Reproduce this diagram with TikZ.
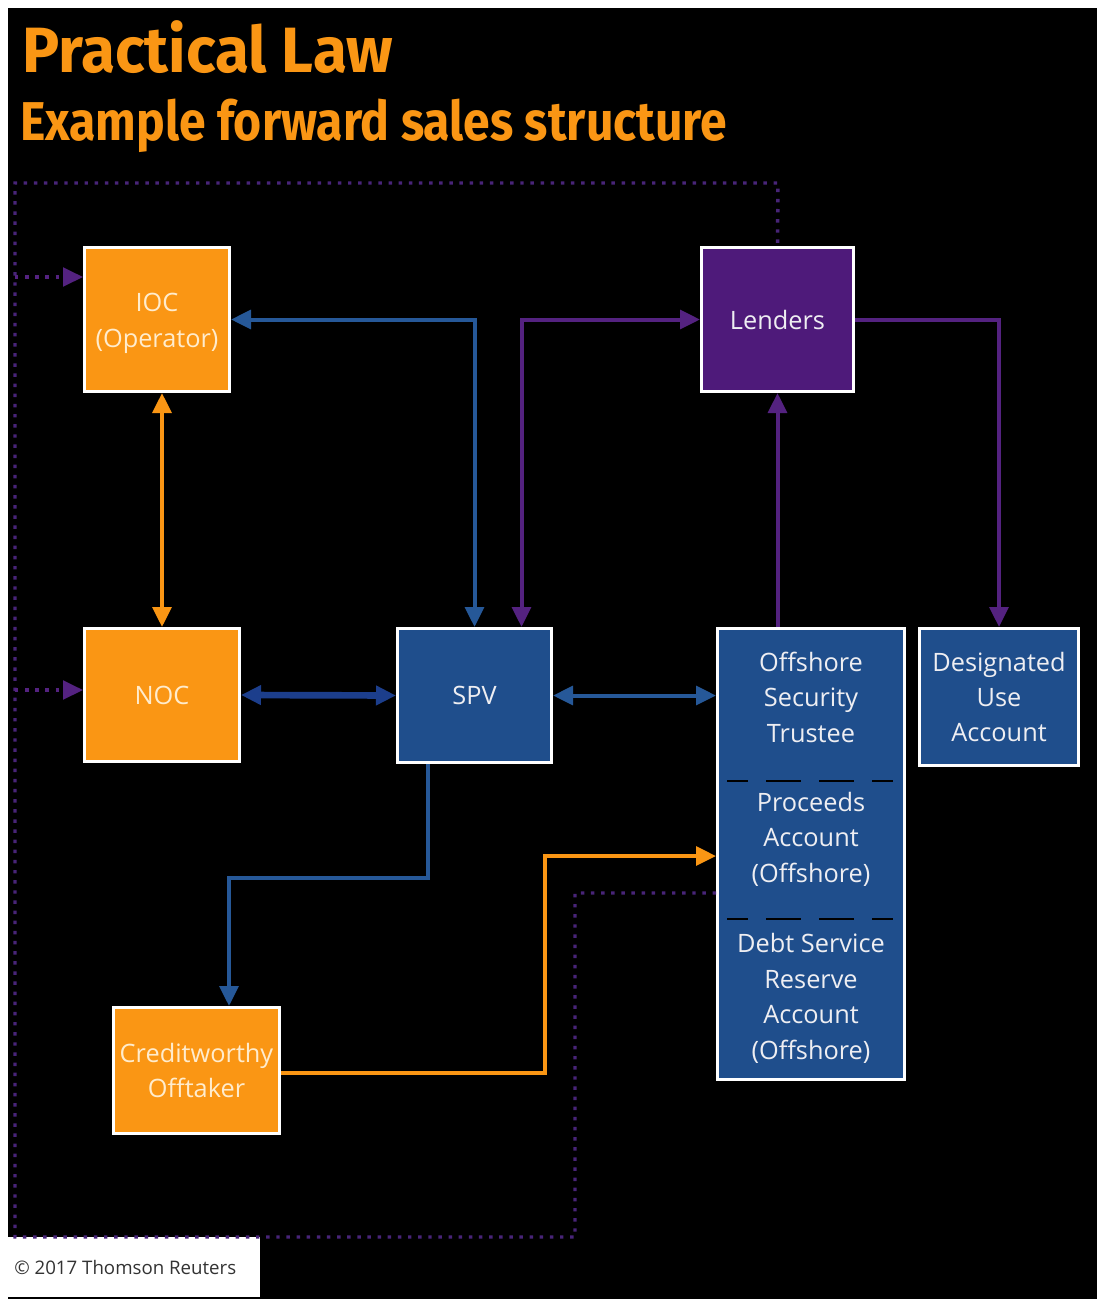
\documentclass[tikz,border=0pt]{standalone}
\usepackage{fontspec}
\setmainfont{Open Sans}
\newfontfamily\titlefont{Fira Sans}
\usetikzlibrary{arrows.meta,calc}
\definecolor{org}{RGB}{250,150,20}
\definecolor{blu}{RGB}{31,78,140}
\definecolor{blul}{RGB}{38,88,152}
\definecolor{bluk}{RGB}{28,62,140}
\definecolor{pur}{RGB}{78,26,122}
\definecolor{purl}{RGB}{84,34,128}
\definecolor{purd}{RGB}{72,36,120}
\definecolor{txtc}{RGB}{238,238,242}
\definecolor{txto}{RGB}{255,236,205}
\begin{document}
\begin{tikzpicture}[x=0.75pt,y=-0.75pt,
  >={Triangle[length=15pt,width=14pt]},
  box/.style={draw=white, line width=2.25pt, inner sep=0pt, align=center, text=txtc,
    font=\fontsize{19}{26.6}\selectfont},
  obox/.style={box, fill=org, text=txto},
  bbox/.style={box, fill=blu},
  pbox/.style={box, fill=pur},
  intext/.style={inner sep=0pt, align=center, text=txtc, font=\fontsize{19}{26.6}\selectfont},
  conn/.style={line width=3pt},
  dotline/.style={line width=2.6pt, draw=purd, dash pattern=on 2.6pt off 5pt},
  divider/.style={line width=2.2pt, draw=black, dash pattern=on 26.25pt off 13.5pt, dash phase=10.5pt}
]
\useasboundingbox (0,0) rectangle (1097,1299);
\fill[white] (0,0) rectangle (1097,1299);
\fill[black] (8,8) rectangle (1097,1299);
\fill[white] (8,1237) rectangle (260,1297);

% titles
\node[anchor=base west, inner sep=0pt, text=org, font=\titlefont\bfseries\fontsize{48}{48}\selectfont] (t1) at (22,72) {\scalebox{0.97}[1]{Practical Law}};
\node[anchor=base west, inner sep=0pt, text=org, font=\titlefont\bfseries\fontsize{41}{41}\selectfont] (t2) at (20,140) {\scalebox{0.88}[1]{Example forward sales structure}};
\node[anchor=base west, inner sep=0pt, text=black!80, font=\fontsize{14}{14}\selectfont] (cr) at (14,1274) {© 2017 Thomson Reuters};

% boxes
\node[obox, minimum width=108.75pt, minimum height=108pt] (IOC) at (157,319.5) {};
\node[intext, text=txto] (IOCt) at (157,323.5) {IOC\\(Operator)};
\node[pbox, minimum width=114pt, minimum height=108pt] (Lenders) at (777.5,319.5) {Lenders};
\node[obox, minimum width=116.25pt, minimum height=99.75pt] (NOC) at (162,695) {NOC};
\node[bbox, minimum width=115.5pt, minimum height=100.5pt] (SPV) at (474.5,695.5) {SPV};
\node[bbox, minimum width=140.25pt, minimum height=338.25pt] (Off) at (811,854) {};
\node[bbox, minimum width=119.25pt, minimum height=102.75pt] (Des) at (999,697) {Designated\\Use\\Account};
\node[obox, minimum width=124.5pt, minimum height=94.5pt] (Cred) at (196.5,1070.5) {Creditworthy\\Offtaker};

% texts inside offshore column
\node[intext] (offT) at (811,697) {Offshore\\Security\\Trustee};
\node[intext] (offP) at (811,839) {Proceeds\\Account\\(Offshore)};
\node[intext] (offD) at (811,998.5) {Debt Service\\Reserve\\Account\\(Offshore)};
\coordinate (dv1a) at (727,781); \coordinate (dv1b) at (893,781);
\coordinate (dv2a) at (727,919); \coordinate (dv2b) at (893,919);
\draw[divider] (dv1a) -- (dv1b);
\draw[divider] (dv2a) -- (dv2b);

% dotted purple route
\coordinate (d0) at (Off.west |- 0,893);
\coordinate (d1) at (575,893);
\coordinate (d2) at (575,1237);
\coordinate (d3) at (15,1237);
\coordinate (d4) at (15,183);
\coordinate (d5) at (778,183);
\coordinate (dI) at (15,277);
\coordinate (dN) at (15,690);
\draw[dotline] (d0) -- (d1) -- (d2) -- (d3) -- (d4) -- (d5) -- (Lenders.north);
\draw[dotline, ->, purl] (dI) -- (IOC.west |- dI);
\draw[dotline, ->, purl] (dN) -- (NOC.west |- dN);

% orange IOC <-> NOC
\draw[conn, org, <->] (NOC.north |- IOC.south) -- (NOC.north);
% blue IOC <-> SPV
\draw[conn, blul, <->] (IOC.east) -| (SPV.north);
% purple Lenders <-> SPV
\coordinate (spvP) at ($(SPV.north)+(47,0)$);
\draw[conn, purl, <->] (Lenders.west) -| (spvP);
% Lenders -> Designated
\draw[conn, purl, ->] (Lenders.east) -| (Des.north);
% Offshore -> Lenders
\draw[conn, purl, ->] (Lenders.south |- Off.north) -- (Lenders.south);
% NOC <-> SPV
\draw[line width=5pt, bluk, <->] (NOC.east) -- (SPV.west);
% SPV <-> Offshore
\draw[conn, blul, <->] (SPV.east) -- (SPV.east -| Off.west);
% SPV -> Creditworthy
\coordinate (s0) at ($(SPV.south)+(-46.5,0)$);
\coordinate (s1) at (428,878);
\coordinate (s2) at (229,878);
\draw[conn, blul, ->] (s0) -- (s1) -- (s2) -- (s2 |- Cred.north);
% Creditworthy -> Proceeds
\coordinate (c1) at (545,1073);
\coordinate (c2) at (545,856);
\draw[conn, org, ->] (Cred.east |- c1) -- (c1) -- (c2) -- (c2 -| Off.west);
\end{tikzpicture}
\end{document}
